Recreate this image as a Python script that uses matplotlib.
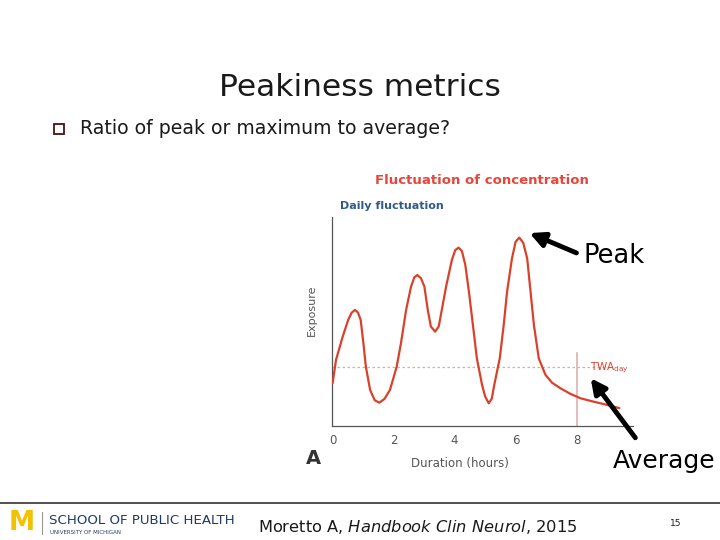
import matplotlib.pyplot as plt

plt.rcParams['font.family'] = ['DejaVu Sans']
plt.rcParams['mathtext.fontset'] = 'dejavusans'

# exposure curve (hours, arbitrary exposure units)
hours = [0.0, 0.11, 0.33, 0.51, 0.62, 0.73, 0.83, 0.92, 1.01, 1.09, 1.23, 1.38,
         1.53, 1.70, 1.88, 2.10, 2.24, 2.41, 2.57, 2.68, 2.78, 2.90, 3.01, 3.12,
         3.22, 3.36, 3.48, 3.58, 3.72, 3.91, 4.02, 4.13, 4.24, 4.35, 4.47, 4.60,
         4.73, 4.90, 5.00, 5.12, 5.22, 5.30, 5.48, 5.61, 5.72, 5.88, 6.00, 6.12,
         6.25, 6.38, 6.49, 6.60, 6.76, 6.98, 7.20, 7.47, 7.80, 8.13, 8.50, 8.90,
         9.20, 9.40]
exposure = [2.03, 3.14, 4.26, 5.06, 5.40, 5.54, 5.42, 5.06, 3.94, 2.82, 1.71, 1.22,
            1.10, 1.28, 1.71, 2.82, 3.94, 5.54, 6.65, 7.10, 7.21, 7.05, 6.65, 5.54,
            4.75, 4.50, 4.75, 5.54, 6.65, 7.93, 8.40, 8.52, 8.35, 7.70, 6.40, 4.82,
            3.22, 1.95, 1.40, 1.07, 1.30, 1.95, 3.22, 4.82, 6.41, 8.00, 8.80, 9.00,
            8.75, 8.00, 6.41, 4.82, 3.22, 2.43, 2.05, 1.79, 1.52, 1.31, 1.17, 1.03,
            0.92, 0.84]
twa_day = 2.82
shift_end = 8
shift_line_top = 3.46
xticks = [0, 2, 4, 6, 8]

fig = plt.figure(figsize=(7.2, 5.4), dpi=100)

# chart
ax = fig.add_axes([0.4607, 0.2117, 0.4185, 0.387])
ax.set_facecolor('none')
ax.plot(hours, exposure, color='#d9412b', lw=1.6, zorder=3,
        solid_joinstyle='round', solid_capstyle='round')
ax.axhline(twa_day, xmin=0, xmax=0.93, color='#eba3a3', lw=0.9, ls=(0, (2, 2)))
ax.plot([shift_end, shift_end], [0, shift_line_top], color='#ddb0ae', lw=1.2)
ax.text(8.45, twa_day - 0.06, r'TWA$_{\rm day}$', color='#d9412b', fontsize=7.5,
        va='center', ha='left')
ax.set_xlim(-0.03, 9.85)
ax.set_ylim(0, 10)
ax.set_xticks(xticks)
ax.set_xticklabels([str(t) for t in xticks])
ax.set_yticks([])
ax.tick_params(axis='x', length=0, pad=6, labelsize=8.5, labelcolor='#555555')
for side in ['top', 'right']:
    ax.spines[side].set_visible(False)
for side in ['left', 'bottom']:
    ax.spines[side].set_color('#555555')
    ax.spines[side].set_linewidth(0.9)

# slide overlay in pixel coordinates
ov = fig.add_axes([0, 0, 1, 1], zorder=5)
ov.set_facecolor('none')
ov.set_xlim(0, 720)
ov.set_ylim(540, 0)
ov.axis('off')

ov.text(360, 88, 'Peakiness metrics', fontsize=22.5, ha='center', va='center', color='#1a1a1a')
ov.plot([59], [129], marker='s', ms=7, mfc='none', mec='#4a1010', mew=1.3)
ov.text(80, 129, 'Ratio of peak or maximum to average?', fontsize=13.6, ha='left',
        va='center', color='#1a1a1a')

ov.text(482, 181, 'Fluctuation of concentration', fontsize=9.5, fontweight='bold',
        color='#e5473d', ha='center', va='center')
ov.text(340, 206, 'Daily fluctuation', fontsize=8, fontweight='bold',
        color='#2f5b8a', ha='left', va='center')
ov.text(312, 310, 'Exposure', fontsize=8, rotation=90, color='#555555',
        ha='center', va='center')
ov.text(313, 459, 'A', fontsize=14, fontweight='bold', color='#333333',
        ha='center', va='center')
ov.text(460, 463, 'Duration (hours)', fontsize=8.5, color='#555555',
        ha='center', va='center')

ov.text(583, 256, 'Peak', fontsize=18.5, ha='left', va='center', color='black')
ov.text(613, 461, 'Average', fontsize=18, ha='left', va='center', color='black')
ov.annotate('', xy=(527, 232), xytext=(579, 254),
            arrowprops=dict(arrowstyle='-|>', lw=3.5, color='black', mutation_scale=22))
ov.annotate('', xy=(589, 376), xytext=(637, 440),
            arrowprops=dict(arrowstyle='-|>', lw=3.5, color='black', mutation_scale=22))

# footer
ov.plot([0, 720], [503, 503], color='#333333', lw=1.2)
ov.text(22, 523, 'M', fontsize=19, fontweight='bold', color='#f2c200',
        ha='center', va='center')
ov.plot([42, 42], [512, 534], color='#999999', lw=0.8)
ov.text(49, 520, 'SCHOOL OF PUBLIC HEALTH', fontsize=9.6, color='#1f3a64',
        ha='left', va='center')
ov.text(50, 532, 'UNIVERSITY OF MICHIGAN', fontsize=4, color='#1f3a64',
        ha='left', va='center')
ov.text(258, 527, r'Moretto A, $\it{Handbook\ Clin\ Neurol}$, 2015', fontsize=11.7,
        ha='left', va='center', color='#1a1a1a')
ov.text(676, 523, '15', fontsize=6.5, ha='center', va='center', color='#1a1a1a')

fig.savefig('out.png', dpi=100)
